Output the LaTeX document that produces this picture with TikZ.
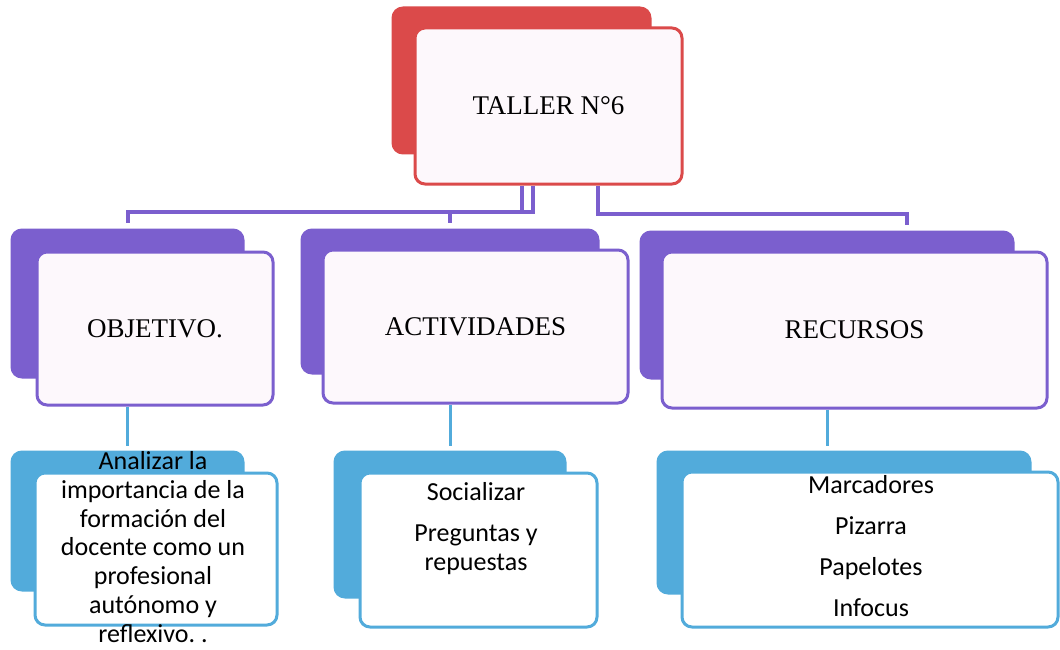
\documentclass[tikz,border=0pt]{standalone}
\usepackage{fontspec}
\setmainfont{Liberation Serif}
\setsansfont{Carlito}
\usepackage{tikz}

\definecolor{tallerred}{RGB}{219,74,74}
\definecolor{levelpurple}{RGB}{123,95,206}
\definecolor{levelblue}{RGB}{82,171,219}
\definecolor{cardfill}{RGB}{253,248,252}

\begin{document}
\frenchspacing
\begin{tikzpicture}[x=1pt, y=-1pt,
    card/.style={rectangle, rounded corners=10pt, line width=3pt, inner sep=0pt},
    cardback/.style={card, draw=#1, fill=#1},
    cardfront/.style={card, draw=#1, fill=cardfill, font=\fontsize{27}{32}\selectfont},
    kidtext/.style={align=center, inner sep=0pt, font=\sffamily\fontsize{26}{28.7}\selectfont},
    plink/.style={draw=levelpurple, line width=4pt},
    blink/.style={draw=levelblue, line width=3pt}]
    \path[use as bounding box, fill=white] (0,0) rectangle (1060,650);

    % top
    \node[cardback=tallerred, minimum width=257, minimum height=145] (top-bk) at (521.5,80.5) {};
    \node[cardfront=tallerred, minimum width=267, minimum height=156] (top) at (548.5,106) {TALLER N°6};

    % second level
    \node[cardback=levelpurple, minimum width=231, minimum height=147] (obj-bk) at (127.5,303.5) {};
    \node[cardfront=levelpurple, minimum width=236, minimum height=153] (obj) at (155,328.5) {OBJETIVO.};
    \node[cardback=levelpurple, minimum width=296, minimum height=143] (act-bk) at (450,301.5) {};
    \node[cardfront=levelpurple, minimum width=305, minimum height=153] (act) at (475.5,326.5) {ACTIVIDADES};
    \node[cardback=levelpurple, minimum width=372, minimum height=146] (rec-bk) at (827,305) {};
    \node[cardfront=levelpurple, minimum width=385, minimum height=156] (rec) at (854.5,330) {RECURSOS};

    % third level
    \node[cardback=levelblue, minimum width=231, minimum height=138] (obj-kid-bk) at (127.5,521) {};
    \node[cardfront=levelblue, fill=white, minimum width=242, minimum height=152] (obj-kid) at (156,549) {};
    \node[cardback=levelblue, minimum width=230, minimum height=145] (act-kid-bk) at (450,524.5) {};
    \node[cardfront=levelblue, fill=white, minimum width=237, minimum height=154] (act-kid) at (478.5,550) {};
    \node[cardback=levelblue, minimum width=372, minimum height=141] (rec-kid-bk) at (844,522.5) {};
    \node[cardfront=levelblue, fill=white, minimum width=376, minimum height=155] (rec-kid) at (870,549.5) {};

    \node[kidtext, anchor=base] (obj-txt) at (153,642) {Analizar la\\ importancia de la\\ formación del\\ docente como un\\ profesional\\ autónomo y\\ reflexivo. .};
    \node[kidtext, anchor=base] (act-txt) at (476,570) {Socializar\\[12pt] Preguntas y\\ repuestas};
    \node[kidtext, anchor=base] (rec-txt) at (871,616) {Marcadores\\[12pt] Pizarra\\[12pt] Papelotes\\[12pt] Infocus};

    % connectors
    \foreach \dx/\n/\kx in {-26.5/obj/0, -15.5/act/0, 49.5/rec/80} {
        \draw[plink] ([xshift=\dx pt]top.south) |- ([xshift=\kx pt, yshift=17pt]\n-bk.north) -- ++(0,11);
    }
    \foreach \n in {obj, act, rec} {
        \draw[blink] (\n.south -| \n-bk.south) -- ([yshift=5pt]\n-bk.south |- \n-kid-bk.north);
    }
\end{tikzpicture}
\end{document}
